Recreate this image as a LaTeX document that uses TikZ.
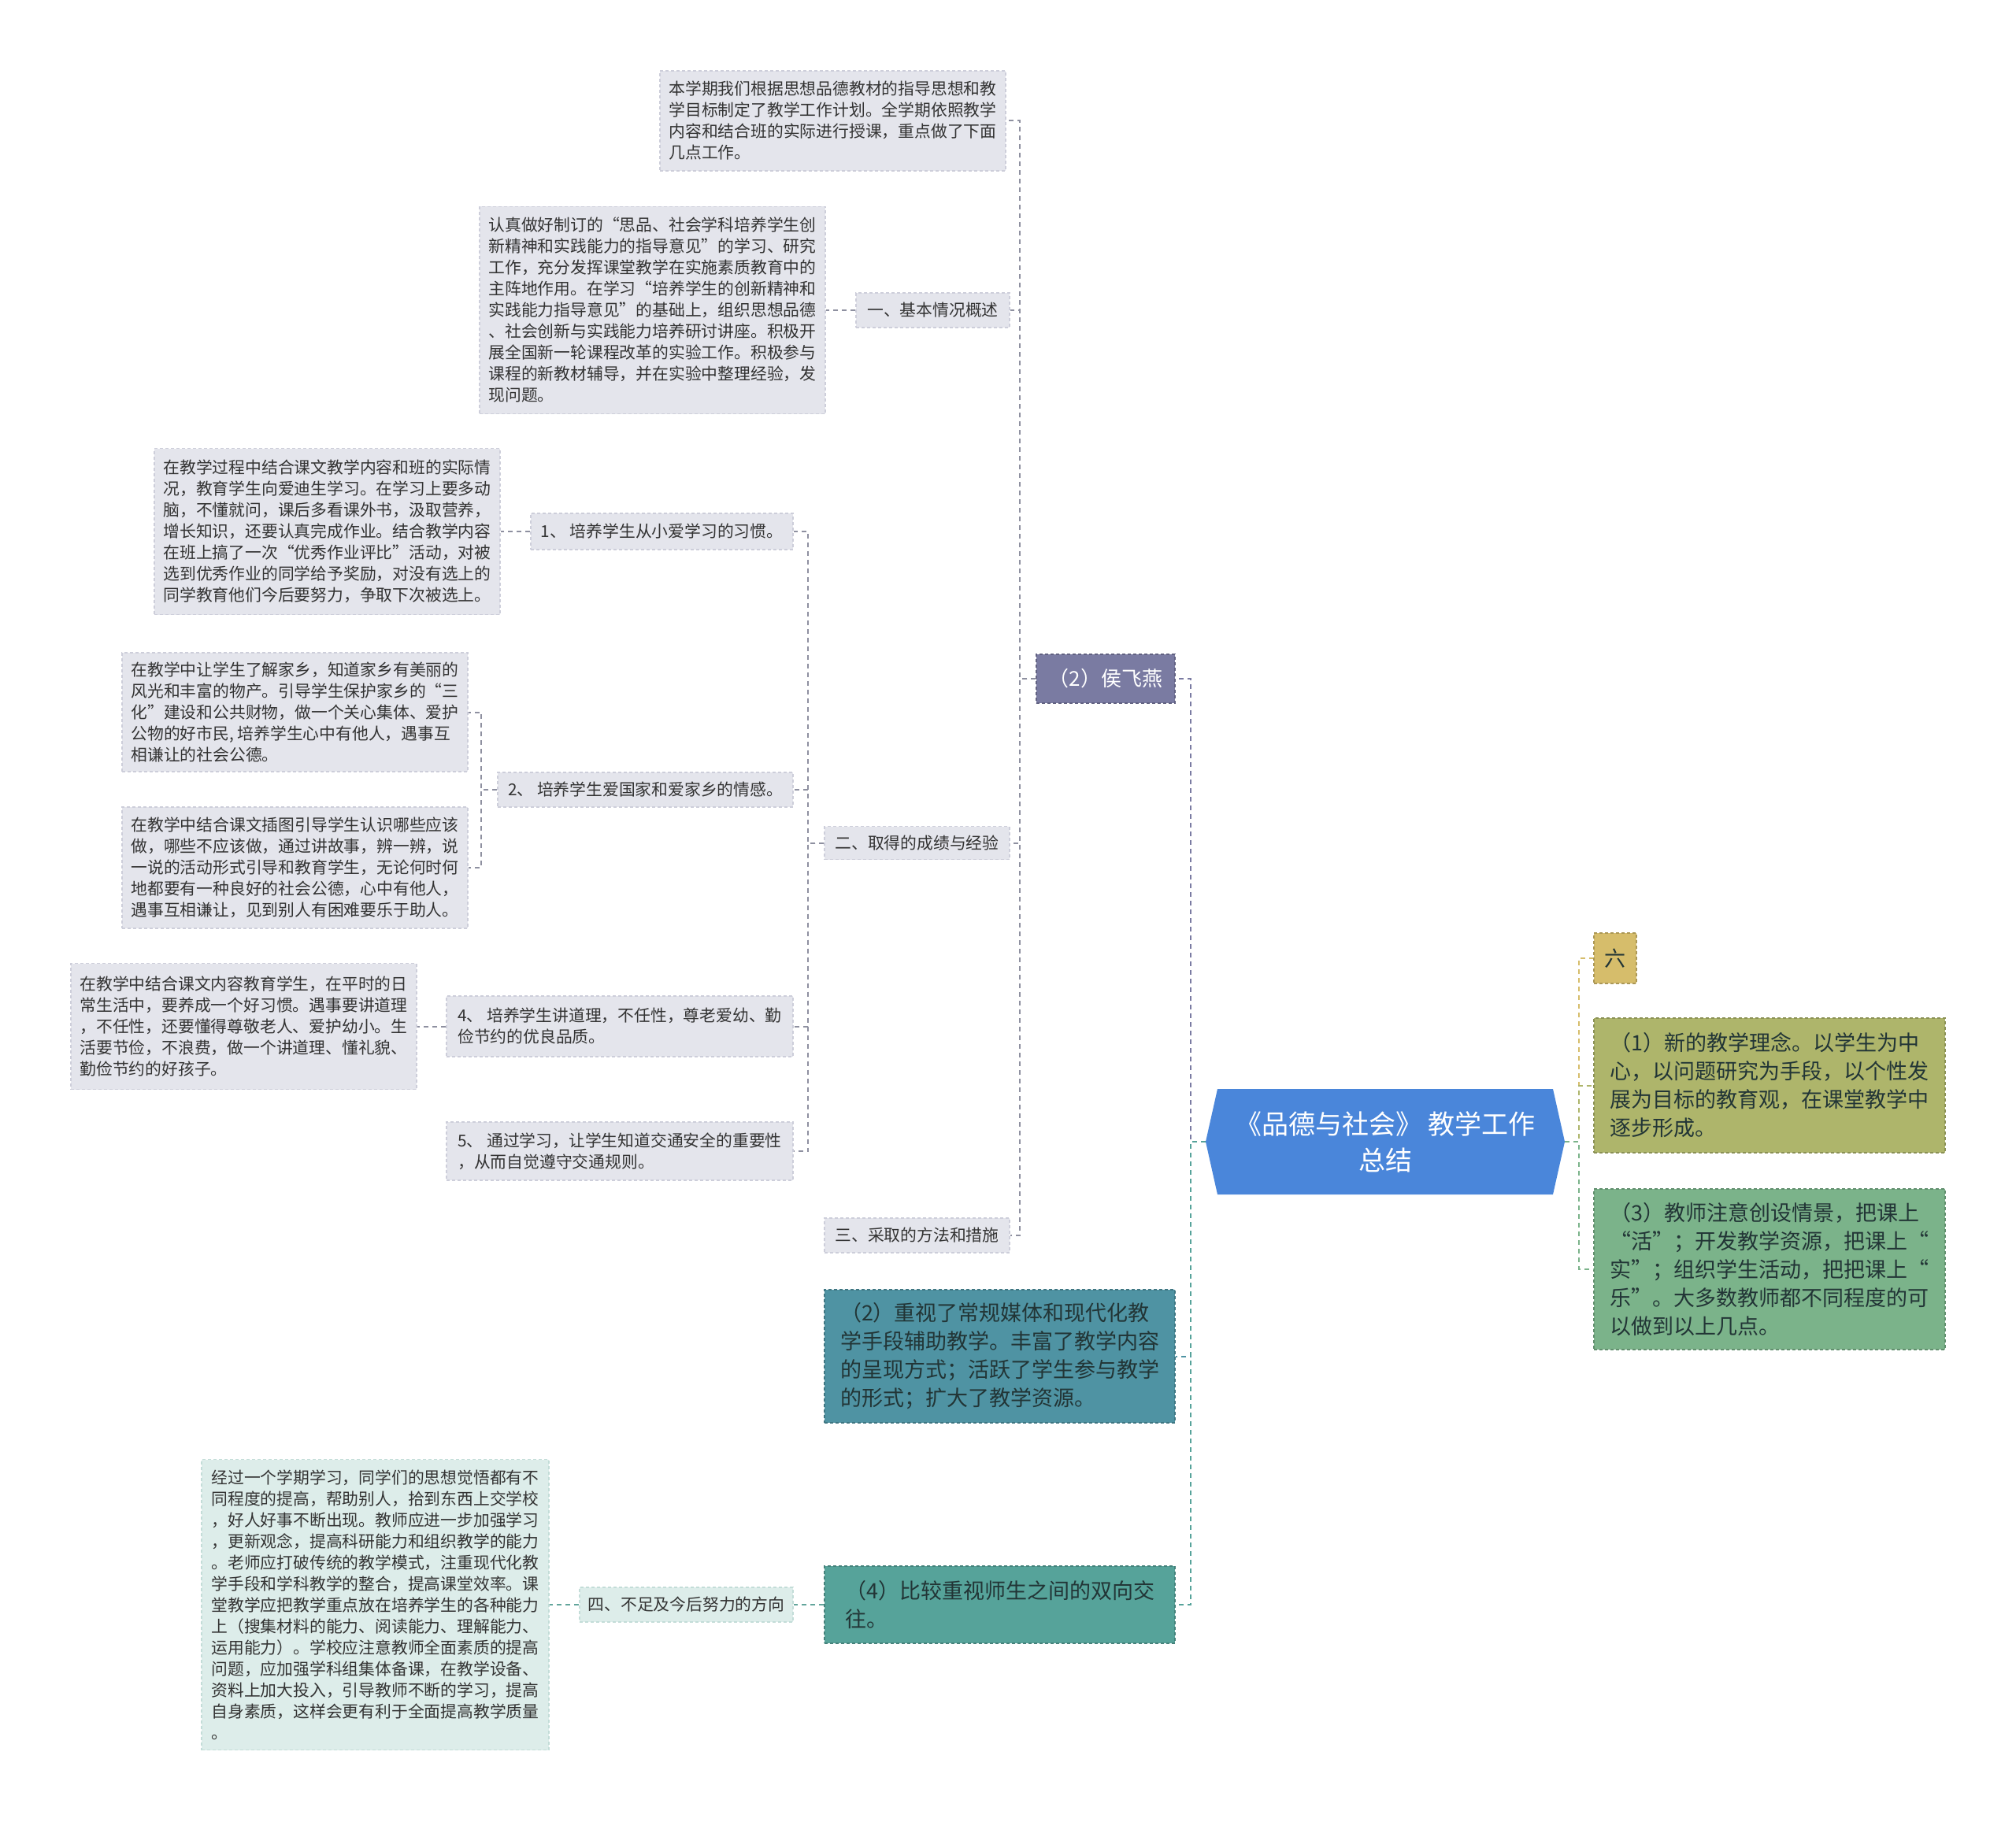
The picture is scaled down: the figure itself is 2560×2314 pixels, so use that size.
\documentclass[tikz,border=0pt]{standalone}
\usepackage{fontspec}
\setmainfont{Noto Sans CJK SC}
\definecolor{gbox}{HTML}{E4E5EC}
\definecolor{gline}{HTML}{CDCEDA}
\definecolor{gconn}{HTML}{8E90A0}
\definecolor{tbox}{HTML}{DDEDEA}
\definecolor{tline}{HTML}{C3DDD8}
\definecolor{tconn}{HTML}{62A59B}
\definecolor{houc}{HTML}{7A7BA2}
\definecolor{zhongc}{HTML}{4F93A3}
\definecolor{bijc}{HTML}{56A39A}
\definecolor{rootc}{HTML}{4A86DA}
\definecolor{liuc}{HTML}{D6BD6B}
\definecolor{pac}{HTML}{AEB56B}
\definecolor{pcc}{HTML}{7BB38A}
\definecolor{txt}{HTML}{333333}
\definecolor{darktxt}{HTML}{223536}
\begin{document}
\begin{tikzpicture}[x=1pt,y=-1pt,
 bxbase/.style={align=left, inner sep=0pt, dash pattern=on 4pt off 3pt, line width=1.3pt},
 gb/.style={bxbase, fill=gbox, draw=gline, text=txt, font=\fontsize{20.8}{27}\selectfont},
 tb/.style={bxbase, fill=tbox, draw=tline, text=txt, font=\fontsize{20.8}{27}\selectfont},
 cb/.style={bxbase, fill=#1, draw=#1!80!black, text=darktxt, font=\fontsize{27}{36}\selectfont},
 sz/.style 2 args={minimum width=#1pt, minimum height=#2pt},
 lnk/.style={draw=#1, line width=2pt, dash pattern=on 6pt off 5pt},
]
\useasboundingbox (0,0) rectangle (2560,2314);

% ---- root ----
\fill[rootc] (1531,1450) -- (1546,1383) -- (1972,1383) -- (1987,1450) -- (1972,1517) -- (1546,1517) -- cycle;
\node[align=center, inner sep=0pt, text=white, font=\fontsize{34}{46}\selectfont, sz={456}{134}] (root) at (1759,1450) {《品德与社会》 教学工作\\总结};

% ---- right side ----
\node[cb=liuc, sz={54}{64}, align=center] (liu) at (2051,1217) {六};
\node[cb=pac, sz={446}{171}] (pa) at (2247,1378.5) {（1）新的教学理念。以学生为中\\心，以问题研究为手段，以个性发\\展为目标的教育观，在课堂教学中\\逐步形成。};
\node[cb=pcc, sz={446}{204}] (pc) at (2247,1612) {（3）教师注意创设情景，把课上\\“活”；开发教学资源，把课上“\\实”；组织学生活动，把把课上“\\乐”。大多数教师都不同程度的可\\以做到以上几点。};

% ---- left first level ----
\node[cb=houc, sz={176}{62}, text=white, font=\fontsize{26}{34}\selectfont, align=center] (hou) at (1404,862) {（2）侯飞燕};
\node[cb=zhongc, sz={445}{169}] (zhong) at (1269.5,1722.5) {（2）重视了常规媒体和现代化教\\学手段辅助教学。丰富了教学内容\\的呈现方式；活跃了学生参与教学\\的形式；扩大了教学资源。};
\node[cb=bijc, sz={445}{98}] (bij) at (1269.5,2038) {（4）比较重视师生之间的双向交\\往。};

% ---- children of hou ----
\node[gb, sz={439}{127}] (top) at (1057.5,153.5) {本学期我们根据思想品德教材的指导思想和教\\学目标制定了教学工作计划。全学期依照教学\\内容和结合班的实际进行授课，重点做了下面\\几点工作。};
\node[gb, sz={195}{44}, align=center] (jiben) at (1184.5,394) {一、基本情况概述};
\node[gb, sz={439}{263}] (jibentext) at (828.5,394) {认真做好制订的“思品、社会学科培养学生创\\新精神和实践能力的指导意见”的学习、研究\\工作，充分发挥课堂教学在实施素质教育中的\\主阵地作用。在学习“培养学生的创新精神和\\实践能力指导意见”的基础上，组织思想品德\\、社会创新与实践能力培养研讨讲座。积极开\\展全国新一轮课程改革的实验工作。积极参与\\课程的新教材辅导，并在实验中整理经验，发\\现问题。};
\node[gb, sz={235}{42}, align=center] (er) at (1164.5,1070.5) {二、取得的成绩与经验};
\node[gb, sz={235}{44}, align=center] (san) at (1164.5,1569) {三、采取的方法和措施};

% ---- children of er ----
\node[gb, sz={333}{46}] (one) at (840.5,675) {1、 培养学生从小爱学习的习惯。};
\node[gb, sz={439}{211}] (onetext) at (415.5,675) {在教学过程中结合课文教学内容和班的实际情\\况，教育学生向爱迪生学习。在学习上要多动\\脑，不懂就问，课后多看课外书，汲取营养，\\增长知识，还要认真完成作业。结合教学内容\\在班上搞了一次“优秀作业评比”活动，对被\\选到优秀作业的同学给予奖励，对没有选上的\\同学教育他们今后要努力，争取下次被选上。};
\node[gb, sz={375}{44}] (two) at (819.5,1003) {2、 培养学生爱国家和爱家乡的情感。};
\node[gb, sz={439}{151}] (twoa) at (374.5,904.5) {在教学中让学生了解家乡，知道家乡有美丽的\\风光和丰富的物产。引导学生保护家乡的“三\\化”建设和公共财物，做一个关心集体、爱护\\公物的好市民, 培养学生心中有他人，遇事互\\相谦让的社会公德。};
\node[gb, sz={439}{154}] (twob) at (374.5,1102) {在教学中结合课文插图引导学生认识哪些应该\\做，哪些不应该做，通过讲故事，辨一辨，说\\一说的活动形式引导和教育学生，无论何时何\\地都要有一种良好的社会公德，心中有他人，\\遇事互相谦让，见到别人有困难要乐于助人。};
\node[gb, sz={440}{77}] (four) at (787,1303.5) {4、 培养学生讲道理，不任性，尊老爱幼、勤\\俭节约的优良品质。};
\node[gb, sz={439}{160}] (fourtext) at (309.5,1303.5) {在教学中结合课文内容教育学生，在平时的日\\常生活中，要养成一个好习惯。遇事要讲道理\\，不任性，还要懂得尊敬老人、爱护幼小。生\\活要节俭，不浪费，做一个讲道理、懂礼貌、\\勤俭节约的好孩子。};
\node[gb, sz={440}{74}] (five) at (787,1462) {5、 通过学习，让学生知道交通安全的重要性\\，从而自觉遵守交通规则。};

% ---- children of bij ----
\node[tb, sz={271}{44}, align=center] (si) at (871.5,2038) {四、不足及今后努力的方向};
\node[tb, sz={441}{369}] (sitext) at (476.5,2038) {经过一个学期学习，同学们的思想觉悟都有不\\同程度的提高，帮助别人，拾到东西上交学校\\，好人好事不断出现。教师应进一步加强学习\\，更新观念，提高科研能力和组织教学的能力\\。老师应打破传统的教学模式，注重现代化教\\学手段和学科教学的整合，提高课堂效率。课\\堂教学应把教学重点放在培养学生的各种能力\\上（搜集材料的能力、阅读能力、理解能力、\\运用能力）。学校应注意教师全面素质的提高\\问题，应加强学科组集体备课，在教学设备、\\资料上加大投入，引导教师不断的学习，提高\\自身素质，这样会更有利于全面提高教学质量\\。};

% ---- connectors ----
\draw[lnk=liuc] (root.east) -- ++(18,0) |- (liu.west);
\draw[lnk=pac] (root.east) -- ++(18,0) |- (pa.west);
\draw[lnk=pcc] (root.east) -- ++(18,0) |- (pc.west);

\draw[lnk=houc] (root.west) -- ++(-19,0) |- (hou.east);
\draw[lnk=zhongc] (root.west) -- ++(-19,0) |- (zhong.east);
\draw[lnk=bijc] (root.west) -- ++(-19,0) |- (bij.east);

\foreach \n in {top,jiben,er,san} \draw[lnk=gconn] (hou.west) -- ++(-20,0) |- (\n.east);
\draw[lnk=gconn] (jiben.west) -- (jibentext.east);
\foreach \n in {one,two,four,five} \draw[lnk=gconn] (er.west) -- ++(-20,0) |- (\n.east);
\draw[lnk=gconn] (one.west) -- (onetext.east);
\foreach \n in {twoa,twob} \draw[lnk=gconn] (two.west) -- ++(-20,0) |- (\n.east);
\draw[lnk=gconn] (four.west) -- (fourtext.east);

\draw[lnk=tconn] (bij.west) -- (si.east);
\draw[lnk=tconn] (si.west) -- (sitext.east);
\end{tikzpicture}
\end{document}
